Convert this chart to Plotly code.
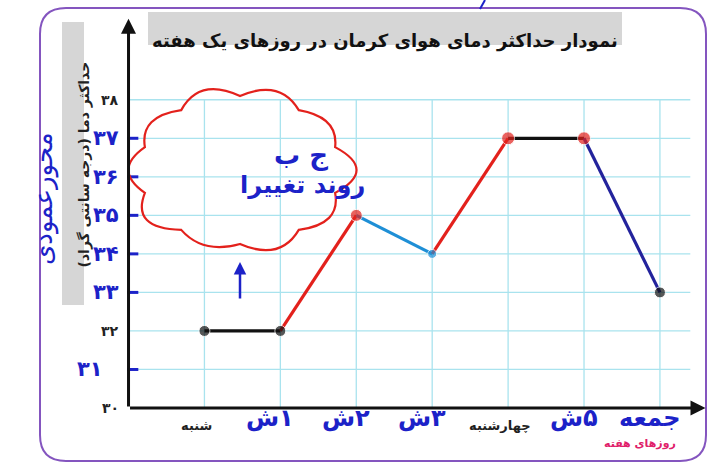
import math

import plotly.graph_objects as go

# data
day_labels = ["شنبه", "ش۱", "ش۲", "ش۳", "چهارشنبه", "ش۵", "جمعه"]
handwritten_day = [False, True, True, True, False, True, True]
temps = [32, 32, 35, 34, 37, 37, 33]
seg_colors = ["#111111", "#e3211c", "#1e8fd6", "#e3211c", "#111111", "#23239c"]
point_colors = ["#111111", "#111111", "#e3211c", "#1e8fd6", "#e3211c", "#e3211c", "#111111"]
point_sizes = [11, 11, 12, 9, 13, 13, 11]
printed_ticks = [30, 32, 38]
hand_ticks = [31, 33, 34, 35, 36, 37]
grid_temps = list(range(31, 39))

title = "نمودار حداکثر دمای هوای کرمان در روزهای یک هفته"
y_title = "حداکثر دما (درجه سانتی گراد)"
x_title = "روزهای هفته"

W, H = 707, 467
L, R, T, B = 127, 0, 15, 59
PW, PH = W - L - R, H - T - B
BLUE = "#1c22c8"
FONT = "DejaVu Sans"
LRO, PDF = "\u202d", "\u202c"

FA = str.maketrans("0123456789", "۰۱۲۳۴۵۶۷۸۹")


def fa(n):
    return str(n).translate(FA)


def px(p):
    return (p - L) / PW


def py(q):
    return (H - B - q) / PH


def hand_text(lab):
    # keep the digit to the right of the letter, as it is written by hand
    if any(c in "۰۱۲۳۴۵۶۷۸۹" for c in lab):
        return f"{LRO}{lab}{PDF}"
    return lab


idx = list(range(len(temps)))
fig = go.Figure()

for i in range(len(temps) - 1):
    fig.add_trace(go.Scatter(x=idx[i:i + 2], y=temps[i:i + 2], mode="lines",
                             line=dict(color=seg_colors[i], width=3.2),
                             hoverinfo="skip", showlegend=False))
fig.add_trace(go.Scatter(x=idx, y=temps, mode="markers",
                         marker=dict(color=point_colors, size=point_sizes),
                         showlegend=False))
# handwritten tick dashes on the y axis
fig.add_trace(go.Scatter(x=[-1] * len(hand_ticks), y=hand_ticks, mode="markers",
                         marker=dict(symbol="line-ew", size=14,
                                     line=dict(color=BLUE, width=3)),
                         hoverinfo="skip", showlegend=False))

shapes = []
grid = dict(color="#a9e3ee", width=1.3)
for t in grid_temps:
    shapes.append(dict(type="line", xref="x", yref="y", x0=-1, x1=6.4, y0=t, y1=t,
                       line=grid, layer="below"))
for i in idx:
    shapes.append(dict(type="line", xref="x", yref="y", x0=i, x1=i, y0=30, y1=38,
                       line=grid, layer="below"))

# gray boxes behind titles
shapes.append(dict(type="rect", xref="paper", yref="paper", x0=px(148), x1=px(622),
                   y0=py(45), y1=py(12), fillcolor="#d6d6d6", line_width=0, layer="below"))
shapes.append(dict(type="rect", xref="paper", yref="paper", x0=px(62), x1=px(84),
                   y0=py(305), y1=py(22), fillcolor="#d6d6d6", line_width=0, layer="below"))

# purple rounded frame
fx0, fx1, fy0, fy1, r = 40, 706, 8, 461, 26
frame = (f"M {px(fx0 + r)},{py(fy0)} L {px(fx1 - r)},{py(fy0)} "
         f"Q {px(fx1)},{py(fy0)} {px(fx1)},{py(fy0 + r)} L {px(fx1)},{py(fy1 - r)} "
         f"Q {px(fx1)},{py(fy1)} {px(fx1 - r)},{py(fy1)} L {px(fx0 + r)},{py(fy1)} "
         f"Q {px(fx0)},{py(fy1)} {px(fx0)},{py(fy1 - r)} L {px(fx0)},{py(fy0 + r)} "
         f"Q {px(fx0)},{py(fy0)} {px(fx0 + r)},{py(fy0)} Z")
shapes.append(dict(type="path", xref="paper", yref="paper", path=frame,
                   line=dict(color="#8455bf", width=2)))
# small pen stroke above the frame
shapes.append(dict(type="line", xref="paper", yref="paper", x0=px(480), y0=py(9),
                   x1=px(485), y1=py(0), line=dict(color=BLUE, width=2)))

# red hand-drawn cloud
cx, cy, rx, ry = 240, 170, 100, 74
bumps = [1.30, 1.22, 1.38, 1.25, 1.30, 1.20, 1.35, 1.28, 1.24, 1.32]
n = len(bumps)
pts = []
for k in range(n + 1):
    a = 2 * math.pi * k / n - math.pi / 2
    pts.append((cx + rx * math.cos(a), cy + ry * math.sin(a)))
cloud = f"M {px(pts[0][0])},{py(pts[0][1])}"
for k in range(n):
    a = 2 * math.pi * (k + 0.5) / n - math.pi / 2
    qx, qy = cx + rx * bumps[k] * math.cos(a), cy + ry * bumps[k] * math.sin(a)
    cloud += f" Q {px(qx)},{py(qy)} {px(pts[k + 1][0])},{py(pts[k + 1][1])}"
shapes.append(dict(type="path", xref="paper", yref="paper", path=cloud + " Z",
                   line=dict(color="#e3211c", width=2.2)))

ann = []
# axis arrows
ann.append(dict(x=-1, y=40.1, ax=-1, ay=30, xref="x", yref="y", axref="x", ayref="y",
                text="", showarrow=True, arrowhead=2, arrowsize=1, arrowwidth=3,
                arrowcolor="#111111", standoff=0))
ann.append(dict(x=6.6, y=30, ax=-1, ay=30, xref="x", yref="y", axref="x", ayref="y",
                text="", showarrow=True, arrowhead=2, arrowsize=1, arrowwidth=3,
                arrowcolor="#111111", standoff=0))

for t in printed_ticks:
    ann.append(dict(x=-1, y=t, xref="x", yref="y", text=f"<b>{fa(t)}</b>", showarrow=False,
                    xanchor="right", xshift=-8, font=dict(family=FONT, size=14, color="#222222")))
for t in hand_ticks:
    ann.append(dict(x=-1, y=t, xref="x", yref="y", text=f"<b>{fa(t)}</b>", showarrow=False,
                    xanchor="right", xshift=-8 if t != 31 else -24,
                    font=dict(family=FONT, size=21, color=BLUE)))

for i, (lab, hand) in enumerate(zip(day_labels, handwritten_day)):
    if hand:
        ann.append(dict(x=i, y=30, xref="x", yref="y", text=f"<b>{hand_text(lab)}</b>",
                        showarrow=False, yanchor="top", yshift=6, xshift=-10,
                        font=dict(family=FONT, size=24, color=BLUE)))
    else:
        ann.append(dict(x=i, y=30, xref="x", yref="y", text=f"<b>{lab}</b>", showarrow=False,
                        yanchor="top", yshift=-8, xshift=-8,
                        font=dict(family=FONT, size=13, color="#222222")))

ann.append(dict(x=px(678), y=py(452), xref="paper", yref="paper", text=f"<b>{x_title}</b>",
                showarrow=False, font=dict(family=FONT, size=11, color="#e0206a")))
ann.append(dict(x=px(385), y=py(28), xref="paper", yref="paper", text=f"<b>{title}</b>",
                showarrow=False, font=dict(family=FONT, size=18, color="#111111")))
ann.append(dict(x=px(73), y=py(165), xref="paper", yref="paper", text=f"<b>{y_title}</b>",
                showarrow=False, textangle=-90, font=dict(family=FONT, size=14, color="#222222")))
ann.append(dict(x=px(26), y=py(130), xref="paper", yref="paper", text="محورعمودی",
                showarrow=False, textangle=-90, font=dict(family=FONT, size=26, color=BLUE)))

# cloud note and arrow
ann.append(dict(x=px(272), y=py(138), xref="paper", yref="paper", text="<b>ج ب</b>",
                showarrow=False, font=dict(family=FONT, size=26, color=BLUE)))
ann.append(dict(x=px(238), y=py(185), xref="paper", yref="paper", text="<b>روند تغییرا</b>",
                showarrow=False, font=dict(family=FONT, size=24, color=BLUE)))
ann.append(dict(x=px(240), y=py(262), xref="paper", yref="paper", ax=0, ay=38, text="",
                showarrow=True, arrowhead=2, arrowsize=1, arrowwidth=2.5, arrowcolor=BLUE))

fig.update_layout(
    width=W, height=H,
    margin=dict(l=L, r=R, t=T, b=B),
    paper_bgcolor="white", plot_bgcolor="white",
    xaxis=dict(range=[-1.02, 6.62], visible=False, fixedrange=True),
    yaxis=dict(range=[30, 40.2], visible=False, fixedrange=True),
    shapes=shapes, annotations=ann, showlegend=False,
)

fig.write_html("out.html", config={"displayModeBar": False},
               post_script="document.body.style.margin='0';")
